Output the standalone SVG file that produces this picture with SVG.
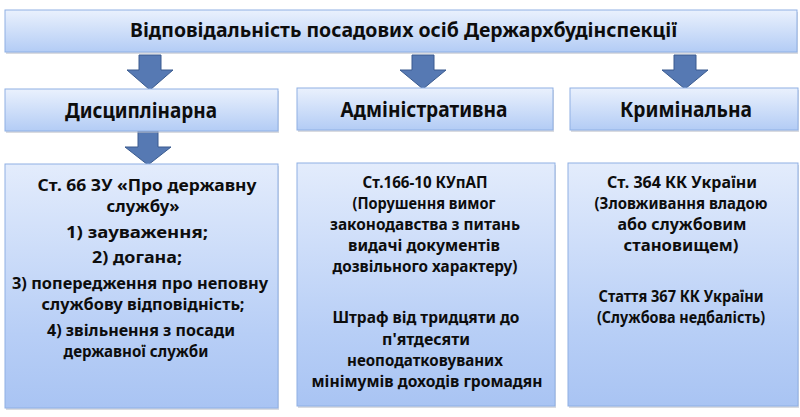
<svg xmlns="http://www.w3.org/2000/svg" width="800" height="417" viewBox="0 0 800 417">
<defs>
<linearGradient id="gTop" x1="0" y1="0" x2="0" y2="1">
<stop offset="0" stop-color="#eaf1fd"/>
<stop offset="1" stop-color="#b3ccf5"/>
</linearGradient>
<linearGradient id="gBody" x1="0" y1="0" x2="0" y2="1">
<stop offset="0" stop-color="#e3ecfc"/>
<stop offset="0.7" stop-color="#b7cef6"/>
<stop offset="1" stop-color="#a9c4f3"/>
</linearGradient>
</defs>
<style>
.shadow{fill:#b9bec6;opacity:0.55}
.box{fill:url(#gTop);stroke:#8fb0e4;stroke-width:1}
.body{fill:url(#gBody);stroke:#8fb0e4;stroke-width:1}
.arrow{fill:#5679b3;stroke:#3a5b8f;stroke-width:1}
text{font-family:"Noto Sans","Open Sans","DejaVu Sans",sans-serif;font-weight:bold;fill:#0d0d0d;text-anchor:middle}
.t1{font-size:19px}
.t2{font-size:20.5px}
.t3{font-size:16.5px}
</style>

<g id="connectors">
<path class="arrow" d="M139,55 H161 V70 H173 L150,90 L127,70 H139 Z"/>
<path class="arrow" d="M412,55 H434 V70 H446 L423,89 L400,70 H412 Z"/>
<path class="arrow" d="M674,55 H696 V70 H708 L685,89 L662,70 H674 Z"/>
<path class="arrow" d="M138,131 H158 V147 H171 L148,165 L125,147 H138 Z"/>
</g>

<g id="title">
<rect class="shadow" x="6" y="12" width="792" height="42"/>
<rect class="box" x="5" y="10" width="792" height="42"/>
<text class="t1" x="403.5" y="37" textLength="547" lengthAdjust="spacingAndGlyphs">Відповідальність посадових осіб Держархбудінспекції</text>
</g>

<g id="disc">
<rect class="shadow" x="6" y="91" width="273" height="42"/>
<rect class="box" x="5" y="89" width="273" height="42"/>
<text class="t2" x="141" y="118" textLength="152" lengthAdjust="spacingAndGlyphs">Дисциплінарна</text>
</g>

<g id="admin">
<rect class="shadow" x="298" y="90" width="256" height="42"/>
<rect class="box" x="297" y="88" width="256" height="42"/>
<text class="t2" x="424" y="117" textLength="167" lengthAdjust="spacingAndGlyphs">Адміністративна</text>
</g>

<g id="crim">
<rect class="shadow" x="571" y="90" width="228" height="42"/>
<rect class="box" x="570" y="88" width="228" height="42"/>
<text class="t2" x="686" y="117" textLength="132" lengthAdjust="spacingAndGlyphs">Кримінальна</text>
</g>

<g id="disc-detail">
<rect class="shadow" x="6" y="166" width="273" height="244"/>
<rect class="body" x="5" y="164" width="273" height="244"/>
<text class="t3" x="147" y="191" textLength="219" lengthAdjust="spacingAndGlyphs">Ст. 66 ЗУ «Про державну</text>
<text class="t3" x="143" y="212" textLength="73" lengthAdjust="spacingAndGlyphs">службу»</text>
<text class="t3" x="137" y="238" textLength="142" lengthAdjust="spacingAndGlyphs">1) зауваження;</text>
<text class="t3" x="137" y="263" textLength="90" lengthAdjust="spacingAndGlyphs">2) догана;</text>
<text class="t3" x="140" y="289" textLength="256" lengthAdjust="spacingAndGlyphs">3) попередження про неповну</text>
<text class="t3" x="143" y="310" textLength="203" lengthAdjust="spacingAndGlyphs">службову відповідність;</text>
<text class="t3" x="141" y="336" textLength="188" lengthAdjust="spacingAndGlyphs">4) звільнення з посади</text>
<text class="t3" x="136" y="357" textLength="145" lengthAdjust="spacingAndGlyphs">державної служби</text>
</g>

<g id="admin-detail">
<rect class="shadow" x="298" y="165" width="258" height="243"/>
<rect class="body" x="297" y="163" width="258" height="243"/>
<text class="t3" x="425" y="188" textLength="125" lengthAdjust="spacingAndGlyphs">Ст.166-10 КУпАП</text>
<text class="t3" x="424" y="209" textLength="143" lengthAdjust="spacingAndGlyphs">(Порушення вимог</text>
<text class="t3" x="425" y="230" textLength="190" lengthAdjust="spacingAndGlyphs">законодавства з питань</text>
<text class="t3" x="424" y="251" textLength="152" lengthAdjust="spacingAndGlyphs">видачі документів</text>
<text class="t3" x="425" y="272" textLength="185" lengthAdjust="spacingAndGlyphs">дозвільного характеру)</text>
<text class="t3" x="426" y="323" textLength="187" lengthAdjust="spacingAndGlyphs">Штраф від тридцяти до</text>
<text class="t3" x="426" y="345" textLength="88" lengthAdjust="spacingAndGlyphs">п'ятдесяти</text>
<text class="t3" x="425" y="366" textLength="156" lengthAdjust="spacingAndGlyphs">неоподатковуваних</text>
<text class="t3" x="427" y="387" textLength="231" lengthAdjust="spacingAndGlyphs">мінімумів доходів громадян</text>
</g>

<g id="crim-detail">
<rect class="shadow" x="569" y="165" width="230" height="243"/>
<rect class="body" x="568" y="163" width="230" height="243"/>
<text class="t3" x="682" y="188" textLength="150" lengthAdjust="spacingAndGlyphs">Ст. 364 КК України</text>
<text class="t3" x="681" y="209" textLength="173" lengthAdjust="spacingAndGlyphs">(Зловживання владою</text>
<text class="t3" x="682" y="230" textLength="129" lengthAdjust="spacingAndGlyphs">або службовим</text>
<text class="t3" x="681" y="251" textLength="115" lengthAdjust="spacingAndGlyphs">становищем)</text>
<text class="t3" x="681" y="302" textLength="165" lengthAdjust="spacingAndGlyphs">Стаття 367 КК України</text>
<text class="t3" x="681" y="323" textLength="168" lengthAdjust="spacingAndGlyphs">(Службова недбалість)</text>
</g>
</svg>
